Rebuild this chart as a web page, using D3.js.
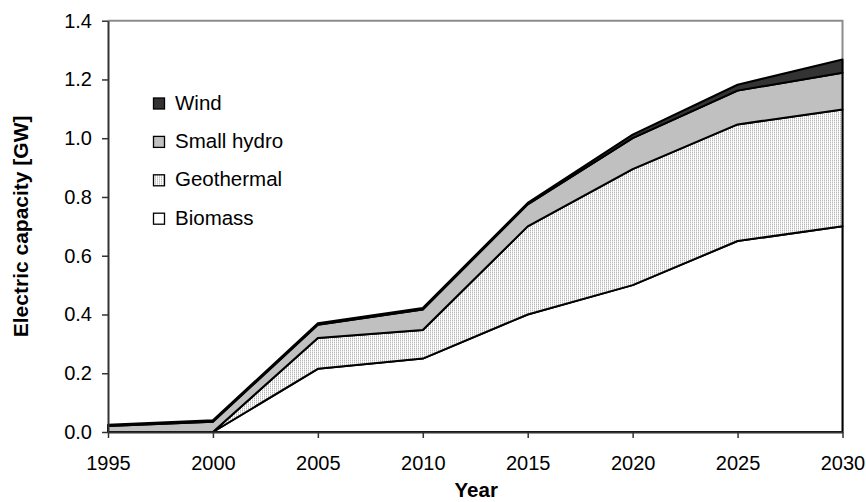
<!DOCTYPE html>
<html>
<head>
<meta charset="utf-8">
<script src="https://cdn.jsdelivr.net/npm/d3@7"></script>
<style>
  html, body { margin: 0; padding: 0; background: #fff; }
  svg { display: block; font-family: "Liberation Sans", Arial, sans-serif; }
</style>
</head>
<body>
<svg id="chart" width="866" height="502"></svg>
<script>
// Electric capacity by renewable source, stacked (GW)
const years = [1995, 2000, 2005, 2010, 2015, 2020, 2025, 2030];
const biomass    = [0, 0, 0.215, 0.25, 0.40, 0.50, 0.65, 0.70];
const geothermal = [0, 0, 0.105, 0.097, 0.30, 0.395, 0.397, 0.398];
const smallHydro = [0.02, 0.035, 0.045, 0.07, 0.075, 0.105, 0.115, 0.125];
const wind       = [0.005, 0.005, 0.005, 0.005, 0.005, 0.012, 0.02, 0.045];
const seriesNames = ["Biomass", "Geothermal", "Small hydro", "Wind"];
const yTicks = [0, 0.2, 0.4, 0.6, 0.8, 1.0, 1.2, 1.4];

const rows = years.map((y, i) => ({
  year: y,
  "Biomass": biomass[i],
  "Geothermal": geothermal[i],
  "Small hydro": smallHydro[i],
  "Wind": wind[i]
}));

const svg = d3.select("#chart");
const margin = { left: 108, right: 23.5, top: 20.7, bottom: 70 };
const W = 866, H = 502;

const x = d3.scaleLinear().domain([1995, 2030]).range([margin.left, W - margin.right]);
const y = d3.scaleLinear().domain([0, 1.4]).range([H - margin.bottom, margin.top]);

// Fill pattern for geothermal: fine vertical dotted grey lines
const defs = svg.append("defs");
const pat = defs.append("pattern")
  .attr("id", "geoPattern")
  .attr("patternUnits", "userSpaceOnUse")
  .attr("width", 2).attr("height", 2);
pat.append("rect").attr("width", 2).attr("height", 2).attr("fill", "#fff");
pat.append("rect").attr("x", 0).attr("y", 0).attr("width", 1).attr("height", 1).attr("fill", "#b8b8b8");
pat.append("rect").attr("x", 0).attr("y", 1).attr("width", 1).attr("height", 1).attr("fill", "#e0e0e0");

const fills = {
  "Biomass": "#ffffff",
  "Geothermal": "url(#geoPattern)",
  "Small hydro": "#c0c0c0",
  "Wind": "#333333"
};

const stack = d3.stack().keys(seriesNames);
const layers = stack(rows);

const area = d3.area()
  .x(d => x(d.data.year))
  .y0(d => y(d[0]))
  .y1(d => y(d[1]));

// Plot frame (top and right in grey)
svg.append("path")
  .attr("d", `M${x(1995)},${y(1.4)}H${x(2030)}V${y(0)}`)
  .attr("fill", "none").attr("stroke", "#8c8c8c").attr("stroke-width", 2);

svg.append("g").selectAll("path")
  .data(layers)
  .join("path")
  .attr("d", area)
  .attr("fill", d => fills[d.key])
  .attr("stroke", "#000")
  .attr("stroke-width", 2)
  .attr("stroke-linejoin", "round");

// Axes
const yAxis = d3.axisLeft(y).tickValues(yTicks).tickFormat(d3.format(".1f")).tickSize(6).tickSizeOuter(0);
const xAxis = d3.axisBottom(x).tickValues(years).tickFormat(d3.format("d")).tickSize(6).tickSizeOuter(0);

const gy = svg.append("g").attr("transform", `translate(${margin.left},0)`).call(yAxis);
const gx = svg.append("g").attr("transform", `translate(0,${y(0)})`).call(xAxis);

[gx, gy].forEach(g => {
  g.attr("font-size", null).attr("font-family", null);
  g.select(".domain").attr("stroke", "#333").attr("stroke-width", 2);
  g.selectAll(".tick line").attr("stroke", "#333").attr("stroke-width", 1.5);
  g.selectAll("text")
    .style("font-family", "'Liberation Sans', Arial, sans-serif")
    .style("font-size", "20px").attr("fill", "#000");
});
gy.selectAll("text").attr("x", -16);
gx.selectAll("text").attr("y", 24);

// Axis titles
svg.append("text")
  .attr("x", (x(1995) + x(2030)) / 2 + 1).attr("y", 497)
  .attr("text-anchor", "middle")
  .style("font-size", "20.5px").attr("font-weight", "bold")
  .text("Year");

svg.append("text")
  .attr("transform", `translate(28,${(y(0) + y(1.4)) / 2}) rotate(-90)`)
  .attr("text-anchor", "middle")
  .style("font-size", "21px").attr("font-weight", "bold")
  .text("Electric capacity [GW]");

// Legend
const legendOrder = ["Wind", "Small hydro", "Geothermal", "Biomass"];
const lg = svg.append("g").attr("transform", "translate(153,98)");
legendOrder.forEach((name, i) => {
  const row = lg.append("g").attr("transform", `translate(0,${i * 38.4})`);
  row.append("rect")
    .attr("x", 0.5).attr("y", 0).attr("width", 11).attr("height", 11)
    .attr("fill", fills[name]).attr("stroke", "#000").attr("stroke-width", 1.3);
  row.append("text")
    .attr("x", 22).attr("y", 11.5)
    .style("font-size", "20.5px")
    .text(name);
});
</script>
</body>
</html>
